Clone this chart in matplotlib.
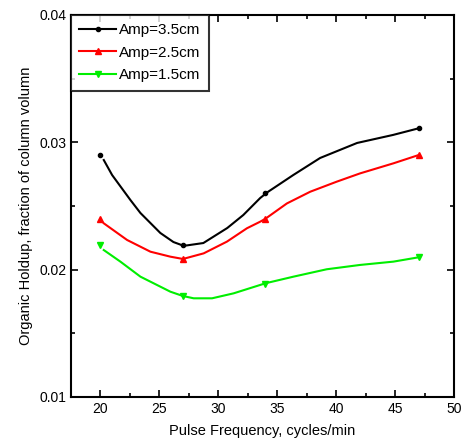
import numpy as np
import matplotlib.pyplot as plt

plt.rcParams['font.family'] = ['Liberation Sans', 'DejaVu Sans']

# measured points (markers at 20, 27, 34, 47 cycles/min)
freq_pts = [20, 27, 34, 47]
amp35_pts = [0.0290, 0.0219, 0.0260, 0.0311]
amp25_pts = [0.0240, 0.0208, 0.0240, 0.0290]
amp15_pts = [0.0219, 0.0179, 0.0189, 0.0210]

# smoothed curves
amp35_x = [20.28, 20.99, 22.54, 23.39, 25.08, 26.19, 26.86, 27.3, 28.73, 30.76, 32.12, 33.56,
           34.2, 36.36, 38.64, 41.78, 44.83, 47]
amp35_y = [0.02861, 0.02743, 0.02547, 0.02445, 0.02288, 0.02217, 0.02194, 0.0219, 0.02209,
           0.02327, 0.02429, 0.02563, 0.0261, 0.02743, 0.02877, 0.02995, 0.03058, 0.0311]
amp25_x = [20.28, 22.26, 24.24, 25.93, 27, 28.76, 30.73, 32.43, 33.56, 34, 35.82, 37.8,
           40.05, 42.03, 44.86, 47]
amp25_y = [0.02364, 0.02233, 0.02141, 0.02102, 0.02084, 0.02128, 0.0222, 0.02325, 0.02377,
           0.0240, 0.0252, 0.02612, 0.02691, 0.02756, 0.02835, 0.0290]
amp15_x = [20.28, 21.69, 23.39, 25.93, 27, 27.91, 29.47, 31.3, 33.56, 34, 36.38, 39.2,
           42.03, 44.86, 47]
amp15_y = [0.02154, 0.02063, 0.01945, 0.01827, 0.01793, 0.01775, 0.01775, 0.01814, 0.0188,
           0.01893, 0.01945, 0.02003, 0.02037, 0.02063, 0.02097]

series = [
    ('Amp=3.5cm', 'black', 'o', 3, amp35_x, amp35_y, amp35_pts),
    ('Amp=2.5cm', 'red', '^', 5, amp25_x, amp25_y, amp25_pts),
    ('Amp=1.5cm', '#00ee00', 'v', 5, amp15_x, amp15_y, amp15_pts),
]

fig = plt.figure(figsize=(4.65, 4.46), dpi=100)
ax = fig.add_axes([0.1527, 0.1099, 0.8236, 0.8565])

for label, color, marker, ms, cx, cy, py in series:
    ax.plot(cx, cy, color=color, lw=1.5)
    ax.plot(freq_pts, py, linestyle='none', marker=marker, markersize=ms, color=color)
    ax.plot([], [], color=color, lw=1.5, marker=marker, markersize=ms, label=label)

ax.set_xlim(17.5, 50)
ax.set_ylim(0.01, 0.04)
ax.set_xticks([20, 25, 30, 35, 40, 45, 50])
ax.set_xticks(np.arange(22.5, 50, 5), minor=True)
ax.set_yticks([0.01, 0.02, 0.03, 0.04])
ax.set_yticks([0.015, 0.025, 0.035], minor=True)
ax.set_yticklabels(['0.01', '0.02', '0.03', '0.04'])
ax.tick_params(which='both', direction='in', top=True, right=True, labelsize=10, width=1.2)
ax.tick_params(which='major', length=5)
ax.tick_params(which='minor', length=3)
for sp in ax.spines.values():
    sp.set_linewidth(1.5)

ax.set_xlabel('Pulse Frequency, cycles/min', fontsize=10.5, labelpad=6)
ax.set_ylabel('Organic Holdup, fraction of column volumn', fontsize=10.5)

leg = ax.legend(loc='upper left', fontsize=11, frameon=True, fancybox=False,
                edgecolor='black', handlelength=2.4, handletextpad=0.2,
                borderaxespad=0, borderpad=0.55, labelspacing=0.55)
leg.get_frame().set_linewidth(1.5)

fig.savefig('out.png', dpi=100)
